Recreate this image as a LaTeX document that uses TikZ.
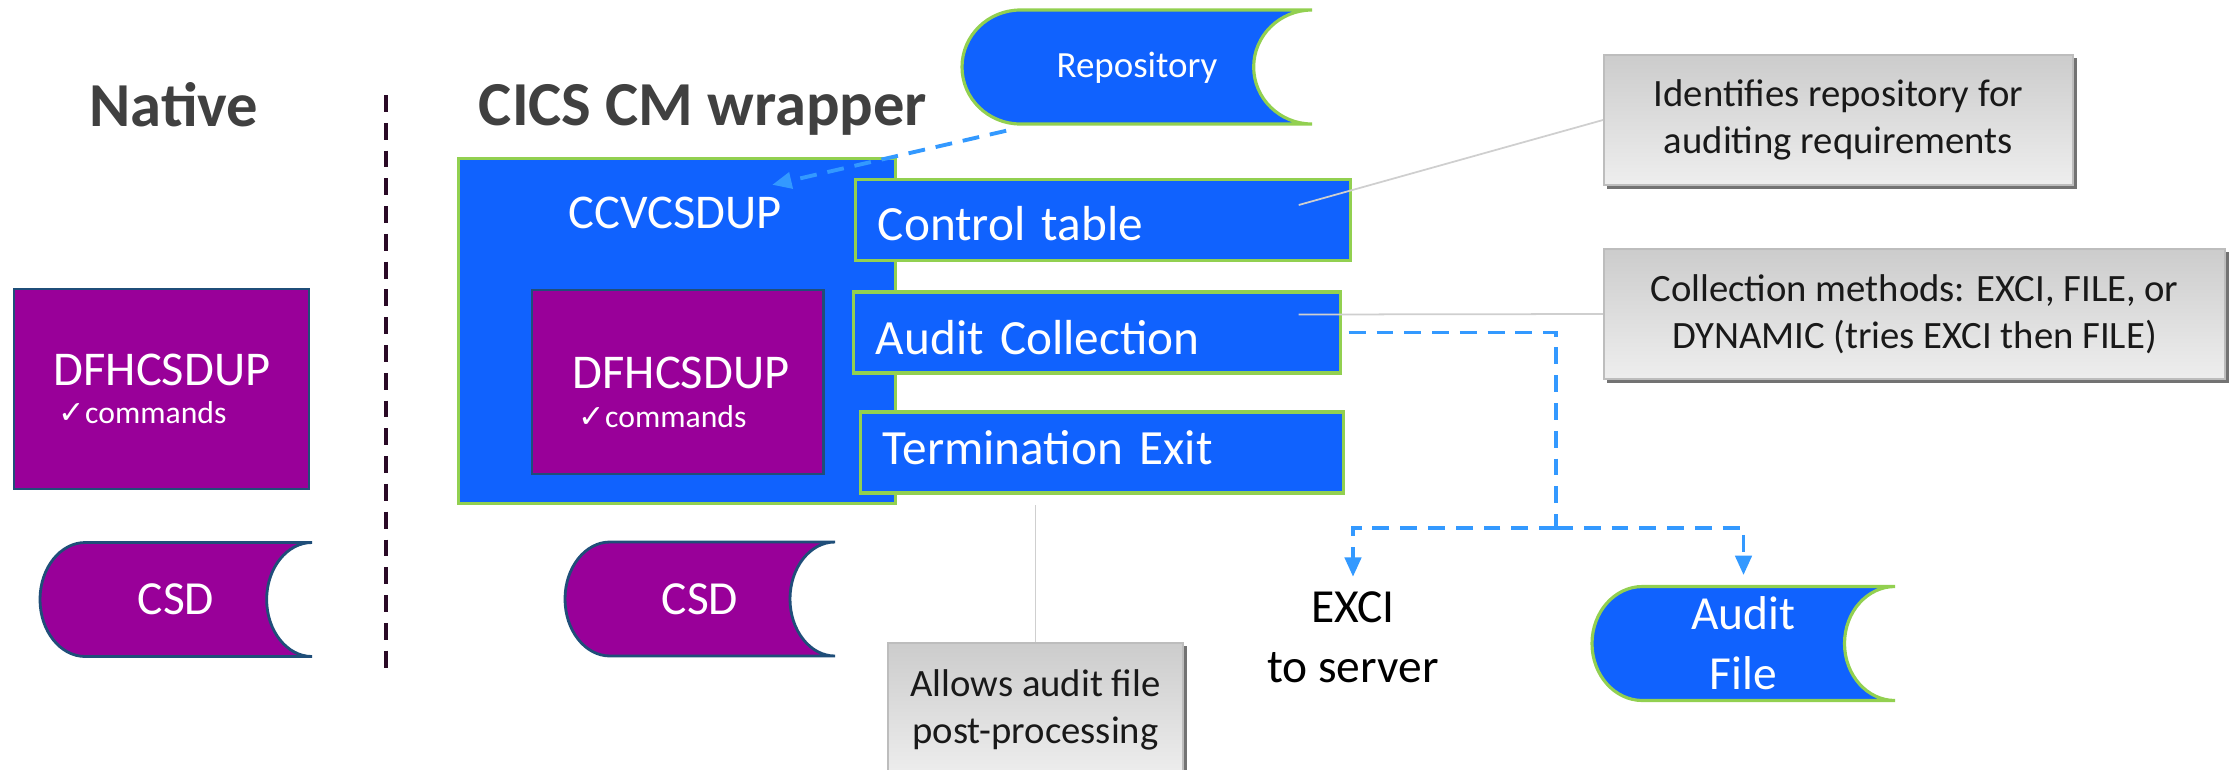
\documentclass[tikz,border=0pt]{standalone}
\usepackage{fontspec}
\setmainfont{Carlito}
\newfontfamily\symfont{DejaVu Sans}
\usetikzlibrary{arrows.meta,shadows}

\definecolor{cmblue}{HTML}{1062FE}
\definecolor{cmgreen}{HTML}{92D050}
\definecolor{cmpurple}{HTML}{990099}
\definecolor{cmnavy}{HTML}{1F4E79}
\definecolor{flowblue}{HTML}{3399FF}
\definecolor{headgray}{HTML}{404040}
\definecolor{sepcolor}{HTML}{2A0A26}
\definecolor{notetop}{HTML}{CCCCCC}
\definecolor{notebottom}{HTML}{EEEEEE}
\definecolor{noteedge}{HTML}{BDBDBD}
\definecolor{linegray}{HTML}{CFCFCF}

\begin{document}
\begin{tikzpicture}[
  x=0.01cm, y=-0.01cm,
  stored/.pic={
    \pgfmathsetmacro\shapew{#1/2}
    \pgfmathsetmacro\shaper{#1/6}
    \filldraw[pic actions] ({-\shapew+\shaper},-57) -- (\shapew,-57)
      arc[start angle=270, end angle=90, x radius=\shaper, y radius=57]
      -- ({-\shapew+\shaper},57)
      arc[start angle=90, end angle=270, x radius=\shaper, y radius=57]
      -- cycle;
  },
  heading/.style={font=\fontsize{17.8}{21}\selectfont\bfseries, text=headgray, anchor=base},
  bluebox/.style={fill=cmblue, draw=cmgreen, line width=0.9pt},
  purplebox/.style={fill=cmpurple, draw=cmnavy, line width=0.8pt},
  tabbox/.style={bluebox, text=white, font=\fontsize{14}{17}\selectfont, align=left,
    inner xsep=0.22cm, text width=#1, text depth=0pt, minimum height=0.81cm},
  boxlabel/.style={text=white, font=\fontsize{13.8}{17}\selectfont, anchor=base, inner sep=0pt},
  cmdlabel/.style={text=white, font=\fontsize{9}{11}\selectfont, anchor=base west, inner sep=0pt},
  storetext/.style={text=white, font=\fontsize{13.5}{17}\selectfont, align=center, minimum height=1.14cm},
  note/.style={top color=notetop, bottom color=notebottom, draw=noteedge, line width=0.5pt,
    drop shadow={shadow xshift=1pt, shadow yshift=-1pt, fill=black!55, opacity=1},
    text=black!90, font=\fontsize{11}{13.4}\selectfont, align=center, minimum height=1.3cm},
  noteline/.style={draw=linegray, line width=0.5pt},
  flow/.style={draw=flowblue, line width=1.1pt, dash pattern=on 4.8pt off 3.1pt},
  flowarrow/.style={flow, -{Triangle[length=5.5pt, width=4.6pt]}},
]
  \useasboundingbox (0,0) rectangle (2233,769);

  % headings and separator
  \node[heading] (native) at (174,126) {Native};
  \node[heading] (wrapper) at (703,125) {CICS CM wrapper};
  \coordinate (septop) at (386,95);
  \coordinate (sepbot) at (386,670);
  \draw[sepcolor, line width=1.1pt, dash pattern=on 4.8pt off 3.1pt] (septop) -- (sepbot);

  % native side
  \node[purplebox, minimum width=2.95cm, minimum height=2cm] (natdfh) at (161.5,389) {};
  \node[boxlabel] (natname) at (162,385) {DFHCSDUP};
  \node[cmdlabel] (natcmd) at (58,423) {{\symfont ✓}commands};
  \pic[purplebox] at (176,599.5) {stored=272};
  \node[storetext, minimum width=2.72cm] (natcsd) at (176,599.5) {CSD};

  % wrapper side
  \node[bluebox, minimum width=4.36cm, minimum height=3.44cm] (ccvbox) at (677,331) {};
  \node[boxlabel] (ccv) at (675,228) {CCVCSDUP};
  \node[purplebox, minimum width=2.91cm, minimum height=1.84cm] (wrapdfh) at (677.5,382) {};
  \node[boxlabel] (wrapname) at (681,388) {DFHCSDUP};
  \node[cmdlabel] (wrapcmd) at (578,427) {{\symfont ✓}commands};
  \node[tabbox=4.5cm, text height=11.4pt] (ctrl) at (1103,220) {Control table};
  \node[tabbox=4.42cm, text height=12.6pt] (audcol) at (1097,332.5) {Audit Collection};
  \node[tabbox=4.38cm, text height=7pt] (term) at (1102,452.5) {Termination Exit};
  \pic[purplebox] at (700,599) {stored=270};
  \node[storetext, minimum width=2.7cm] (wrapcsd) at (700,599) {CSD};

  % repository and outputs
  \pic[bluebox] at (1137,67) {stored=350};
  \node[storetext, minimum width=3.5cm, font=\fontsize{10.5}{13}\selectfont] (repo) at (1137,68) {Repository};
  \pic[bluebox] at (1743.5,643.5) {stored=303};
  \node[storetext, minimum width=3.03cm] (audfile) at (1743.5,643.5) {Audit\\File};
  \node[font=\fontsize{13.5}{17}\selectfont, align=center, inner sep=4pt] (exci) at (1353,637) {EXCI\\to server};

  % notes
  \node[note, minimum width=4.69cm] (ident) at (1838.5,120) {Identifies repository for\\auditing requirements};
  \node[note, minimum width=6.21cm] (collect) at (1914.5,314) {Collection methods: EXCI, FILE, or\\DYNAMIC (tries EXCI then FILE)};
  \node[note, minimum width=2.95cm, minimum height=1.34cm] (allows) at (1035.5,710) {Allows audit file\\post-processing};

  % connectors
  \draw[noteline] (ctrl.east) ++(-53,-15) -- (ident.west);
  \draw[noteline] (audcol.east) ++(-43,-18) -- (collect.west);
  \draw[noteline] (allows.north) -- (allows.north |- ccvbox.south);
  \draw[flowarrow] (repo.south west) ++(45,5) -- ([shift={(-10,-11)}]ccv.north east);
  \coordinate (split) at (1556,528);
  \draw[flow] (audcol.east) ++(7,0) -| (split);
  \draw[flowarrow] (split) -| (exci.north);
  \draw[flowarrow, shorten >=2.7pt] (split) -| (audfile.north);
\end{tikzpicture}
\end{document}
